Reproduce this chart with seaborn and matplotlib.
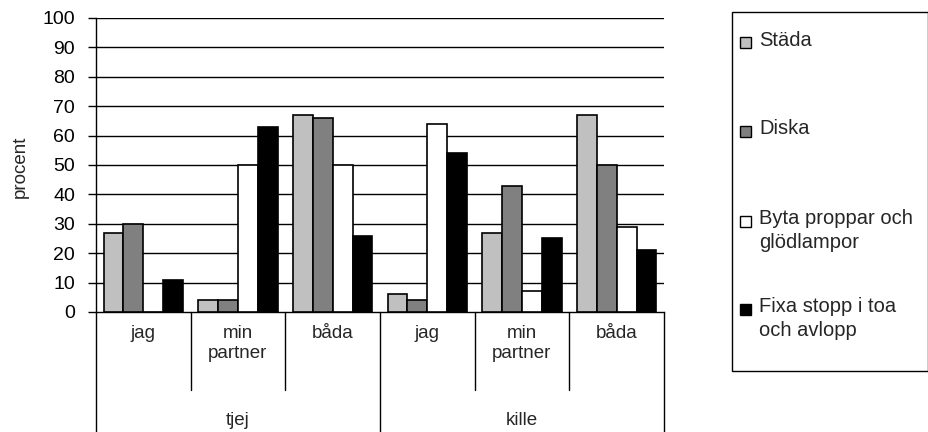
import matplotlib.pyplot as plt
import matplotlib.patches as mpatches
import matplotlib.transforms as mtransforms
import pandas as pd
import seaborn as sns

genders = ["tjej", "kille"]
answers = ["jag", "min\npartner", "båda"]
tasks = ["Städa", "Diska", "Byta proppar och\nglödlampor", "Fixa stopp i toa\noch avlopp"]
colors = ["#C0C0C0", "#808080", "#FFFFFF", "#000000"]

# procent per uppgift, ordning: tjej jag, tjej min partner, tjej båda, kille jag, kille min partner, kille båda
stada = [27, 4, 67, 6, 27, 67]
diska = [30, 4, 66, 4, 43, 50]
byta = [0, 50, 50, 64, 7, 29]
fixa = [11, 63, 26, 54, 25, 21]

rows = []
groups = [f"{g} {a}" for g in genders for a in answers]
for task, vals in zip(tasks, [stada, diska, byta, fixa]):
    for grp, v in zip(groups, vals):
        rows.append({"grupp": grp, "uppgift": task, "procent": v})
df = pd.DataFrame(rows)

sns.set_style("white")
plt.rcParams["font.family"] = ["Liberation Sans", "DejaVu Sans"]

fig = plt.figure(figsize=(9.29, 4.32), dpi=100)
ax = fig.add_axes([0.1033, 0.2778, 0.6114, 0.6806])

sns.barplot(data=df, x="grupp", y="procent", hue="uppgift", order=groups,
            hue_order=tasks, palette=colors, saturation=1, width=0.84,
            edgecolor="black", linewidth=1.2, legend=False, ax=ax, zorder=3)

ax.set_ylim(0, 100)
ax.set_xlim(-0.5, len(groups) - 0.5)
ax.set_yticks(range(0, 101, 10))
ax.tick_params(axis="y", labelsize=14, length=6, width=1, pad=9,
               direction="out", left=True, colors="black")
for y in range(10, 101, 10):
    ax.axhline(y, color="black", lw=1, zorder=1)
for s in ["top", "right"]:
    ax.spines[s].set_visible(False)
for s in ["left", "bottom"]:
    ax.spines[s].set_color("black")
    ax.spines[s].set_linewidth(1)
ax.set_xlabel("")
ax.set_ylabel("")
ax.set_xticks([])
fig.text(20 / 929, 1 - 167 / 432, "procent", rotation=90, ha="center", va="center", fontsize=13.5)

# hierarkisk x-axel
trans = mtransforms.blended_transform_factory(ax.transData, ax.transAxes)
for i, grp in enumerate(groups):
    ax.text(i, -0.045, answers[i % 3], transform=trans, ha="center", va="top",
            fontsize=13.5, linespacing=1.25)
for i in range(len(groups) + 1):
    x = i - 0.5
    low = -0.41 if i % 3 == 0 else -0.265
    ax.plot([x, x], [0, low], transform=trans, color="black", lw=1, clip_on=False)
for j, g in enumerate(genders):
    ax.text(j * 3 + 1, -0.37, g, transform=trans, ha="center", va="center", fontsize=13.5)

# förklaring
fig.patches.append(mpatches.Rectangle((732 / 929, 1 - 371 / 432), 196 / 929, 359 / 432,
                                      transform=fig.transFigure, fill=False,
                                      edgecolor="black", lw=1))
legend_y = [42.5, 131.5, 221.5, 309]
for task, col, yy in zip(tasks, colors, legend_y):
    fig.patches.append(mpatches.Rectangle((740 / 929, 1 - (yy + 5.5) / 432), 11 / 929, 11 / 432,
                                          transform=fig.transFigure, facecolor=col,
                                          edgecolor="black", lw=1))
    fig.text(759 / 929, 1 - (yy - 12) / 432, task, ha="left", va="top", fontsize=14.5,
             linespacing=1.3)

fig.savefig("out.png", dpi=100)
